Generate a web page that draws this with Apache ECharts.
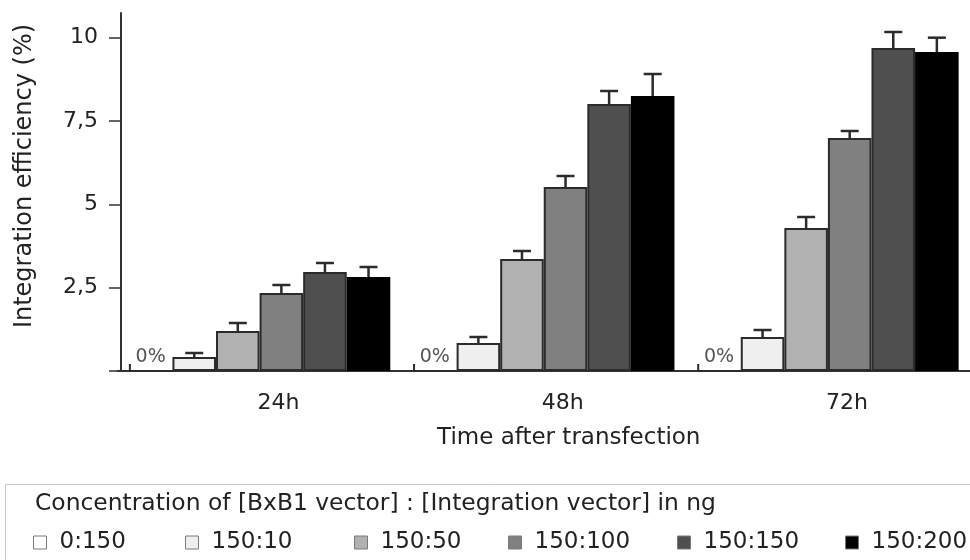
<!DOCTYPE html>
<html>
<head>
<meta charset="utf-8">
<title>Integration efficiency</title>
<script src="https://cdn.jsdelivr.net/npm/echarts@6/dist/echarts.min.js"></script>
<style>
  html, body { margin: 0; padding: 0; background: #fff; }
  #chart { width: 970px; height: 560px; }
</style>
</head>
<body>
<div id="chart"></div>
<script>
// data
var categories = ['24h', '48h', '72h'];
var seriesNames = ['0:150', '150:10', '150:50', '150:100', '150:150', '150:200'];
var v0_150   = [0, 0, 0];
var v150_10  = [0.42, 0.84, 1.02];
var v150_50  = [1.20, 3.36, 4.29];
var v150_100 = [2.34, 5.52, 6.99];
var v150_150 = [2.97, 8.01, 9.69];
var v150_200 = [2.82, 8.25, 9.57];
// error (upper whisker length)
var e0_150   = [0, 0, 0];
var e150_10  = [0.12, 0.18, 0.21];
var e150_50  = [0.24, 0.24, 0.33];
var e150_100 = [0.24, 0.33, 0.21];
var e150_150 = [0.27, 0.39, 0.48];
var e150_200 = [0.30, 0.66, 0.43];
var yTicks = [2.5, 5, 7.5, 10];

var values = [v0_150, v150_10, v150_50, v150_100, v150_150, v150_200];
var errors = [e0_150, e150_10, e150_50, e150_100, e150_150, e150_200];
var fills = ['#ffffff', '#efefef', '#b1b1b1', '#808080', '#4f4f4f', '#000000'];
var legendLeft = [33, 185, 354, 508, 677, 845];

var GAP = 0.08;   // barCategoryGap
var FONT = '"DejaVu Sans", sans-serif';

var myChart = echarts.init(document.getElementById('chart'));

var series = [];
values.forEach(function (vals, s) {
    series.push({
        name: seriesNames[s],
        type: 'bar',
        data: vals,
        barGap: '0%',
        barCategoryGap: (GAP * 100) + '%',
        itemStyle: { color: fills[s], borderColor: s === 5 ? '#000' : '#2b2b2b', borderWidth: 2 },
        label: s === 0 ? {
            show: true, position: 'top', distance: 3,
            formatter: '0%', fontSize: 19, color: '#555', fontFamily: FONT
        } : { show: false },
        emphasis: { disabled: true }
    });
});

// error bars, one custom series covering all groups
var errData = [];
values.forEach(function (vals, s) {
    vals.forEach(function (v, i) {
        errData.push([i, v, v + errors[s][i], s]);
    });
});

series.push({
    type: 'custom',
    name: 'err',
    data: errData,
    z: 5,
    silent: true,
    renderItem: function (params, api) {
        var cat = api.value(0), s = api.value(3);
        var base = api.coord([cat, api.value(1)]);
        var top = api.coord([cat, api.value(2)]);
        var catW = api.size([1, 0])[0];
        var bw = catW * (1 - GAP) / 6;
        var x = base[0] - 3 * bw + (s + 0.5) * bw;
        var st = { stroke: '#2b2b2b', lineWidth: 2.5 };
        if (s === 0) {
            var zero = api.coord([cat, 0]);
            var lx = x - bw / 2 + 1;
            return { type: 'line', shape: { x1: lx, y1: zero[1], x2: lx, y2: zero[1] - 7 }, style: { stroke: '#2b2b2b', lineWidth: 2 } };
        }
        return {
            type: 'group',
            children: [
                { type: 'line', shape: { x1: x, y1: base[1], x2: x, y2: top[1] }, style: st },
                { type: 'line', shape: { x1: x - 9, y1: top[1], x2: x + 9, y2: top[1] }, style: st }
            ]
        };
    }
});

// one legend per item so the spacing follows the original
var legends = seriesNames.map(function (n, i) {
    return {
        data: [n],
        left: legendLeft[i], top: 531, padding: 0,
        icon: 'rect', itemWidth: 13, itemHeight: 13,
        itemTextGap: 16,
        itemStyle: { borderColor: '#7a7a7a', borderWidth: 1 },
        textStyle: { fontSize: 23, color: '#222', fontFamily: FONT, padding: [0, 0, 0, 8] },
        selectedMode: false
    };
});

var option = {
    animation: false,
    backgroundColor: '#fff',
    title: {
        text: 'Concentration of [BxB1 vector] : [Integration vector] in ng',
        left: 35, top: 492, padding: 0,
        textStyle: { fontSize: 23.4, fontWeight: 'normal', color: '#222', fontFamily: FONT }
    },
    graphic: [{
        type: 'rect', left: 3, top: 482,
        shape: { width: 1000, height: 100 },
        style: { fill: 'none', stroke: '#c8c8c8', lineWidth: 1 }
    }],
    legend: legends,
    grid: { left: 117.5, top: 13, width: 861, height: 358 },
    xAxis: {
        type: 'category',
        data: categories,
        axisLine: { lineStyle: { color: '#333', width: 2 } },
        axisTick: { show: false },
        axisLabel: { fontSize: 22, color: '#222', fontFamily: FONT, margin: 21, padding: [0, 0, 0, 38] },
        name: 'Time after transfection',
        nameLocation: 'middle',
        nameGap: 56,
        nameTextStyle: { fontSize: 23, color: '#222', fontFamily: FONT, padding: [0, 0, 0, 50] }
    },
    yAxis: {
        type: 'value',
        min: 0, max: 10.74,
        offset: -3.5,
        splitLine: { show: false },
        axisLine: { show: true, lineStyle: { color: '#333', width: 2 } },
        axisTick: { show: true, length: 12, lineStyle: { color: '#333', width: 1.5 }, customValues: [0].concat(yTicks) },
        axisLabel: {
            customValues: yTicks,
            fontSize: 22, color: '#222', fontFamily: FONT, margin: 23,
            formatter: function (v) { return String(v).replace('.', ','); }
        },
        name: 'Integration efficiency (%)',
        nameLocation: 'middle',
        nameGap: 84,
        nameTextStyle: { fontSize: 24, color: '#222', fontFamily: FONT, padding: [0, 0, 0, 32] }
    },
    series: series
};

myChart.setOption(option);
</script>
</body>
</html>
